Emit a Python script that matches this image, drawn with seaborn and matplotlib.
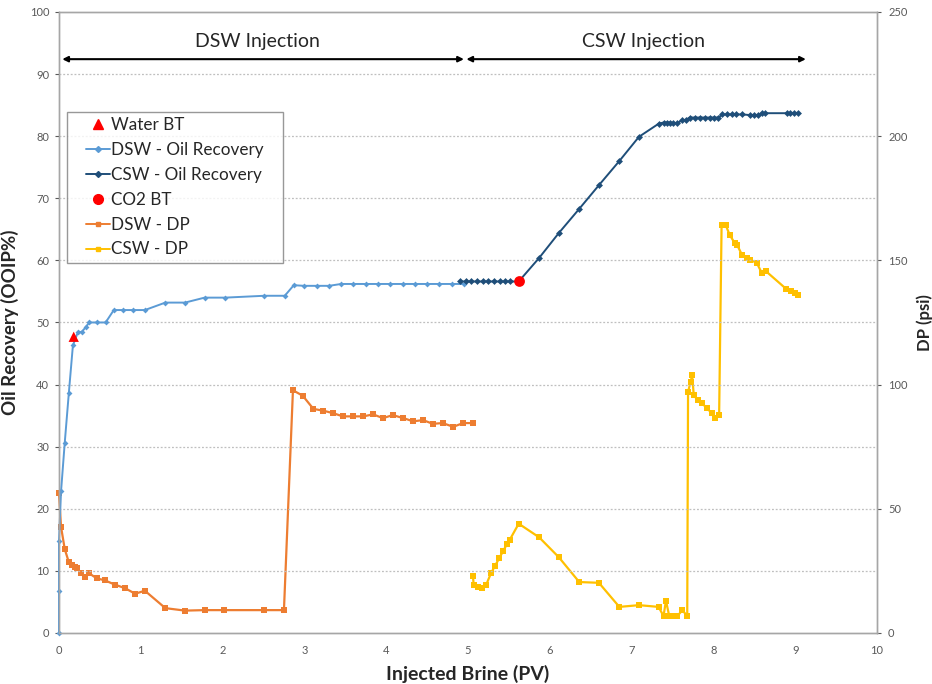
import matplotlib
matplotlib.use("Agg")
import matplotlib.pyplot as plt
import seaborn as sns
import pandas as pd
import numpy as np
from matplotlib.lines import Line2D
from matplotlib.legend_handler import HandlerLine2D

# ---------------- data ----------------
dsw_or_x = [0.0, 0.0, 0.0, 0.025, 0.07, 0.12, 0.17, 0.23, 0.28, 0.33, 0.37, 0.46, 0.57,
            0.67, 0.78, 0.90, 1.05, 1.30, 1.54, 1.78, 2.03, 2.51, 2.76, 2.87, 3.0, 3.15,
            3.3, 3.45, 3.6, 3.75, 3.9, 4.05, 4.2, 4.35, 4.5, 4.65, 4.8, 4.95]
dsw_or_y = [0.0, 6.7, 14.8, 22.8, 30.6, 38.6, 46.3, 48.4, 48.5, 49.3, 50.0, 50.0, 50.0,
            52.0, 52.0, 52.0, 52.0, 53.2, 53.2, 54.0, 54.0, 54.3, 54.3, 56.0, 55.9, 55.9,
            55.9, 56.2, 56.2, 56.2, 56.2, 56.2, 56.2, 56.2, 56.2, 56.2, 56.2, 56.2]

csw_or_x = [4.90, 4.97, 5.04, 5.11, 5.18, 5.25, 5.32, 5.39, 5.45, 5.51, 5.62, 5.87, 6.11,
            6.36, 6.60, 6.85, 7.09, 7.33, 7.39, 7.43, 7.47, 7.51, 7.56, 7.62, 7.66, 7.71,
            7.78, 7.84, 7.90, 7.96, 8.01, 8.06, 8.11, 8.17, 8.23, 8.28, 8.35, 8.45, 8.50,
            8.55, 8.59, 8.63, 8.90, 8.94, 8.99, 9.04]
csw_or_y = [56.6, 56.6, 56.6, 56.6, 56.6, 56.6, 56.6, 56.6, 56.6, 56.6, 56.6, 60.4, 64.4,
            68.3, 72.1, 76.0, 79.9, 82.0, 82.2, 82.2, 82.2, 82.1, 82.1, 82.6, 82.6, 83.0,
            83.0, 83.0, 83.0, 83.0, 83.0, 83.0, 83.5, 83.5, 83.5, 83.5, 83.5, 83.4, 83.4,
            83.4, 83.7, 83.7, 83.7, 83.7, 83.7, 83.7]

water_bt_x = [0.18]
water_bt_y = [47.7]
co2_bt_x = [5.63]
co2_bt_y = [56.6]

# DP in psi (right axis)
dsw_dp_x = [0.0, 0.025, 0.07, 0.12, 0.16, 0.20, 0.22, 0.27, 0.32, 0.37, 0.46, 0.56, 0.68,
            0.81, 0.93, 1.05, 1.30, 1.54, 1.78, 2.02, 2.51, 2.75, 2.86, 2.98, 3.11, 3.23,
            3.35, 3.47, 3.60, 3.72, 3.84, 3.96, 4.08, 4.21, 4.33, 4.45, 4.57, 4.69, 4.82,
            4.94, 5.06]
dsw_dp_y = [56.2, 42.7, 33.8, 28.5, 27.2, 26.5, 26.0, 24.0, 22.5, 24.0, 22.0, 21.2, 19.5,
            18.0, 15.8, 17.0, 10.0, 9.0, 9.2, 9.2, 9.2, 9.2, 97.7, 95.5, 90.2, 89.5,
            88.5, 87.2, 87.2, 87.2, 88.0, 86.5, 87.7, 86.5, 85.2, 85.7, 84.2, 84.5, 83.0,
            84.5, 84.5]

csw_dp_x = [5.06, 5.07, 5.12, 5.17, 5.22, 5.28, 5.33, 5.38, 5.43, 5.48, 5.51, 5.62, 5.87,
            6.11, 6.36, 6.60, 6.85, 7.09, 7.33, 7.39, 7.42, 7.46, 7.51, 7.56, 7.62, 7.68,
            7.69, 7.72, 7.74, 7.76, 7.81, 7.86, 7.92, 7.98, 8.02, 8.07, 8.10, 8.15, 8.20,
            8.26, 8.29, 8.35, 8.41, 8.45, 8.53, 8.59, 8.64, 8.89, 8.95, 9.00, 9.04]
csw_dp_y = [23.0, 19.2, 18.5, 18.2, 19.2, 24.0, 27.0, 30.0, 33.0, 36.0, 37.5, 44.0, 38.5,
            30.5, 20.5, 20.2, 10.5, 11.2, 10.5, 6.8, 13.0, 6.8, 6.8, 6.8, 9.2, 6.8,
            97.0, 101.0, 103.7, 95.7, 93.7, 92.5, 90.5, 88.5, 86.5, 87.7, 164.2, 164.2, 160.2,
            157.0, 156.2, 152.2, 151.0, 150.2, 149.0, 145.0, 145.7, 138.5, 137.7, 137.0, 136.0]

legend_labels = ["Water BT", "DSW - Oil Recovery", "CSW - Oil Recovery", "CO2 BT",
                 "DSW - DP", "CSW - DP"]

# ---------------- style ----------------
sns.set_theme(style="white")
plt.rcParams["font.family"] = ["Lato", "DejaVu Sans"]

c_dsw_or = "#5B9BD5"
c_csw_or = "#1F4E79"
c_dsw_dp = "#ED7D31"
c_csw_dp = "#FFC000"
c_red = "#FF0000"
grid_c = "#BFBFBF"
spine_c = "#A6A6A6"

fig = plt.figure(figsize=(9.32, 6.84), dpi=100)
ax = fig.add_axes([0.0633, 0.0746, 0.8777, 0.9079])
ax2 = ax.twinx()

df1 = pd.DataFrame({"x": dsw_or_x, "y": dsw_or_y})
df2 = pd.DataFrame({"x": csw_or_x, "y": csw_or_y})
df3 = pd.DataFrame({"x": dsw_dp_x, "y": dsw_dp_y})
df4 = pd.DataFrame({"x": csw_dp_x, "y": csw_dp_y})

sns.lineplot(data=df3, x="x", y="y", ax=ax2, sort=False, color=c_dsw_dp, lw=1.6,
             marker="s", markersize=4.5, markeredgewidth=0, estimator=None, clip_on=False)
sns.lineplot(data=df4, x="x", y="y", ax=ax2, sort=False, color=c_csw_dp, lw=1.6,
             marker="s", markersize=4.5, markeredgewidth=0, estimator=None, clip_on=False)
sns.lineplot(data=df1, x="x", y="y", ax=ax, sort=False, color=c_dsw_or, lw=1.4,
             marker="D", markersize=3, markeredgewidth=0, estimator=None, clip_on=False)
sns.lineplot(data=df2, x="x", y="y", ax=ax, sort=False, color=c_csw_or, lw=1.4,
             marker="D", markersize=3.5, markeredgewidth=0, estimator=None, clip_on=False)
sns.scatterplot(x=water_bt_x, y=water_bt_y, ax=ax, color=c_red, marker="^", s=55,
                edgecolor="none", zorder=5)
sns.scatterplot(x=co2_bt_x, y=co2_bt_y, ax=ax, color=c_red, marker="o", s=60,
                edgecolor="none", zorder=5)

# bring left axes on top of right axes
ax.set_zorder(ax2.get_zorder() + 1)
ax.patch.set_visible(False)

ax.set_xlim(0, 10)
ax.set_ylim(0, 100)
ax2.set_ylim(0, 250)
ax.set_xticks(range(0, 11))
ax.set_yticks(range(0, 101, 10))
ax2.set_yticks(range(0, 251, 50))

for a in (ax, ax2):
    a.tick_params(axis="both", labelsize=8, colors="#595959", length=3, width=0.8,
                  direction="out")
    for s in a.spines.values():
        s.set_color(spine_c)
        s.set_linewidth(1.0)
ax.tick_params(axis="x", pad=6)
ax.tick_params(axis="y", pad=4)
ax2.tick_params(axis="y", pad=5)

for v in range(10, 100, 10):
    ax.axhline(v, color=grid_c, lw=0.9, ls=(0, (1.5, 1.5)), zorder=0)

ax.set_xlabel("Injected Brine (PV)", fontsize=14, fontweight="bold", color="#262626",
              labelpad=6)
ax.set_ylabel("Oil Recovery (OOIP%)", fontsize=13.5, fontweight="bold", color="#262626",
              labelpad=8)
ax2.set_ylabel("DP (psi)", fontsize=12, fontweight="bold", color="#262626", labelpad=6)

# injection period arrows
ax.annotate("", xy=(0.04, 92.4), xytext=(4.95, 92.4),
            arrowprops=dict(arrowstyle="<|-|>", color="black", lw=1.5,
                            mutation_scale=8, shrinkA=0, shrinkB=0))
ax.annotate("", xy=(4.98, 92.4), xytext=(9.13, 92.4),
            arrowprops=dict(arrowstyle="<|-|>", color="black", lw=1.5,
                            mutation_scale=8, shrinkA=0, shrinkB=0))
ax.text(2.42, 95.3, "DSW Injection", ha="center", va="center", fontsize=14, color="#262626")
ax.text(7.14, 95.3, "CSW Injection", ha="center", va="center", fontsize=14, color="#262626")


class ShiftHandler(HandlerLine2D):
    """Draw the legend sample in the right part of the handle box."""
    def create_artists(self, legend, orig_handle, xdescent, ydescent, width, height,
                       fontsize, trans):
        arts = super().create_artists(legend, orig_handle, xdescent, ydescent, width,
                                      height, fontsize, trans)
        for a in arts:
            if isinstance(a, Line2D):
                xd = np.asarray(a.get_xdata(), float)
                a.set_xdata(width - (width - xd) * 0.62)
        return arts


handles = [
    Line2D([], [], color=c_red, marker="^", ls="none", markersize=7),
    Line2D([], [], color=c_dsw_or, marker="D", markersize=3, lw=1.4),
    Line2D([], [], color=c_csw_or, marker="D", markersize=3, lw=1.4),
    Line2D([], [], color=c_red, marker="o", ls="none", markersize=7),
    Line2D([], [], color=c_dsw_dp, marker="s", markersize=3.5, lw=1.4),
    Line2D([], [], color=c_csw_dp, marker="s", markersize=3.5, lw=1.4),
]
leg = ax.legend(handles, legend_labels, loc="upper left",
                bbox_to_anchor=(0.0098, 0.604, 0.264, 0.235), mode="expand",
                fontsize=12.3, frameon=True, fancybox=False, handlelength=2.2,
                handletextpad=0.1, labelspacing=0.52, borderpad=0.3,
                borderaxespad=0, handler_map={Line2D: ShiftHandler()})
leg.get_frame().set_edgecolor("#7F7F7F")
leg.get_frame().set_linewidth(1.0)
for t in leg.get_texts():
    t.set_color("#262626")

fig.savefig("out.png", dpi=100)
